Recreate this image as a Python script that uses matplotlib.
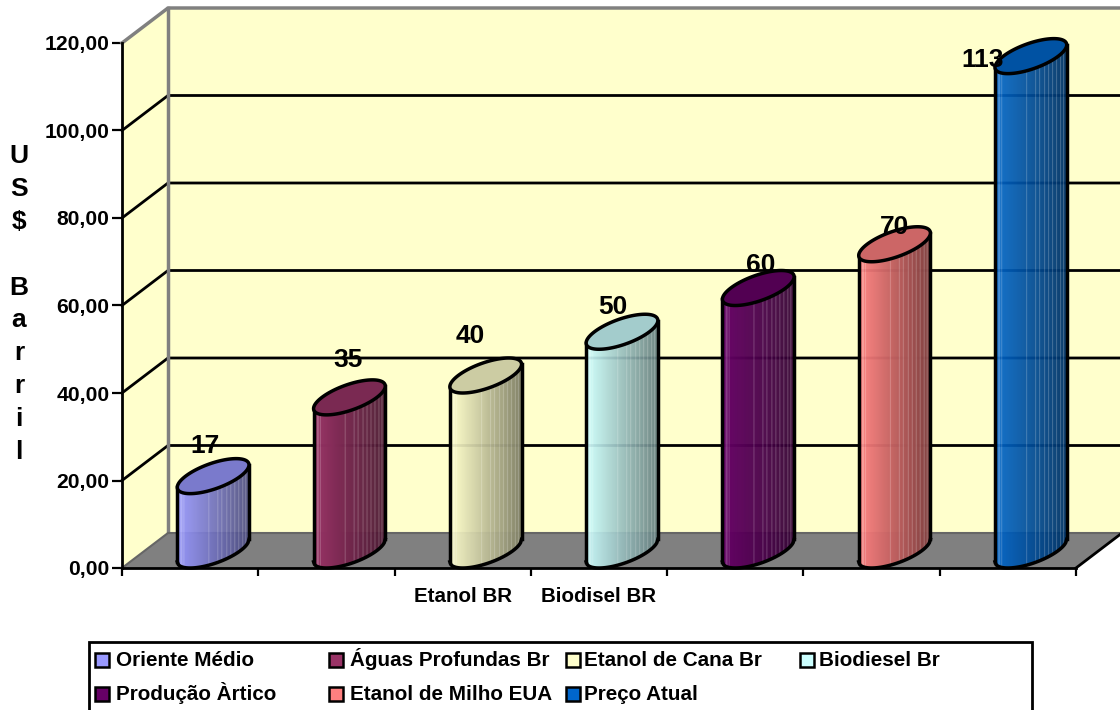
import numpy as np
import matplotlib
matplotlib.use('Agg')
import matplotlib.pyplot as plt
from matplotlib.patches import Polygon, Rectangle
from matplotlib.colors import to_rgb

plt.rcParams['font.family'] = ['Liberation Sans', 'DejaVu Sans']
plt.rcParams['font.weight'] = 'bold'

# dados
categories = ['Oriente Médio', 'Águas Profundas Br', 'Etanol de Cana Br', 'Biodiesel Br',
              'Produção Àrtico', 'Etanol de Milho EUA', 'Preço Atual']
values = [17, 35, 40, 50, 60, 70, 113]
colors = ['#9999ff', '#993366', '#ffffcc', '#ccffff', '#660066', '#ff8080', '#0066cc']
xtick_labels = ['', '', 'Etanol BR', 'Biodisel BR', '', '', '']
yticks = [0, 20, 40, 60, 80, 100, 120]
ylabel = 'U\nS\n$\n\nB\na\nr\nr\ni\nl'

# deslocamento manual dos rotulos (px) em relacao ao topo frontal da barra
label_dx = [15, 22, 8, 14, 25, 23, -25]
label_dy = [48, 55, 57, 42, 40, 35, 14]

# profundidade 3D em unidades de dados
DX = 46 / 136.3
DY = 8.0
WIDTH = 55 / 136.3
light_lines = [0.05, 0.09, 0.44, 0.56, 0.62, 0.69, 0.75, 0.8, 0.86, 0.91, 0.96]

fig = plt.figure(figsize=(11.2, 7.1), dpi=100)
ax = fig.add_axes([122 / 1120, (710 - 568) / 710, 954 / 1120, 525 / 710])
ax.set_xlim(0, 7)
ax.set_ylim(0, 120)
ax.patch.set_visible(False)
for s in ['top', 'right']:
    ax.spines[s].set_visible(False)
for s in ['left', 'bottom']:
    ax.spines[s].set_linewidth(2)
    ax.spines[s].set_zorder(6)

# paredes e piso
ax.add_patch(Polygon([(DX, DY), (7 + DX, DY), (7 + DX, 120 + DY), (DX, 120 + DY)],
                     fc='#ffffcc', ec='none', clip_on=False, zorder=1))
ax.add_patch(Polygon([(0, 0), (DX, DY), (DX, 120 + DY), (0, 120)],
                     fc='#ffffcc', ec='none', clip_on=False, zorder=1))
ax.add_patch(Polygon([(0, 0), (DX, DY), (7 + DX, DY), (7, 0)],
                     fc='#808080', ec='none', clip_on=False, zorder=1))
for v in yticks[1:-1]:
    ax.plot([0, DX, 7 + DX], [v, v + DY, v + DY], color='black', lw=2, clip_on=False, zorder=2)
ax.plot([0, DX, 7 + DX], [120, 120 + DY, 120 + DY], color='#808080', lw=2.5, clip_on=False, zorder=2)
ax.plot([DX, DX], [DY, 120 + DY], color='#808080', lw=2.5, clip_on=False, zorder=2)
ax.plot([0, DX, 7 + DX], [0, DY, DY], color='#666666', lw=1.5, clip_on=False, zorder=2)
ax.plot([7, 7 + DX], [0, DY], color='black', lw=2, clip_on=False, zorder=6)

# cilindros
A = WIDTH / 2
B = DX / 2
C = DY / 2
R = np.hypot(A, B)
phi = np.arctan2(B, A)
t = np.linspace(0, 2 * np.pi, 200)
xs = np.linspace(-R, R, 73)


def lower_edge(x):
    return C * np.sin(phi - np.arccos(np.clip(x / R, -1, 1)))


for i, (v, col) in enumerate(zip(values, colors)):
    cx = i + 0.5 + DX / 2
    base = np.array(to_rgb(col))
    low = lower_edge(xs)
    for j in range(len(xs) - 1):
        f = j / (len(xs) - 2)
        shade = 1.0 - 0.5 * f
        c = base * shade
        if any(abs(f - p) < 0.008 for p in light_lines):
            c = c + (1 - c) * 0.22
        xx = cx + xs[j:j + 2]
        ax.fill_between(xx, DY / 2 + low[j:j + 2], v + DY / 2 + low[j:j + 2], color=c,
                        lw=0.3, clip_on=False, zorder=3)
    # contorno
    ax.plot(cx + xs, DY / 2 + low, color='black', lw=2.5, clip_on=False, zorder=4)
    ax.plot([cx - R, cx - R], [DY / 2 + low[0], v + DY / 2 + low[0]], color='black', lw=2.5, clip_on=False, zorder=4)
    ax.plot([cx + R, cx + R], [DY / 2 + low[-1], v + DY / 2 + low[-1]], color='black', lw=2.5, clip_on=False, zorder=4)
    # tampa
    ex = cx + A * np.cos(t) + B * np.sin(t)
    ey = v + DY / 2 + C * np.sin(t)
    ax.fill(ex, ey, fc=base * 0.8, ec='black', lw=2.5, clip_on=False, zorder=5)
    ax.annotate(str(v), (i + 0.5, v), xytext=(label_dx[i] * 0.72, label_dy[i] * 0.72), textcoords='offset points',
                ha='center', va='center', fontsize=19, fontweight='bold', zorder=7, annotation_clip=False)

# eixos
ax.set_yticks(yticks)
ax.set_yticklabels(['%d,00' % v for v in yticks])
ax.set_xticks(range(8))
ax.set_xticklabels([])
ax.set_xticks(np.arange(7) + 0.5, minor=True)
ax.set_xticklabels(xtick_labels, minor=True)
ax.tick_params(axis='both', which='major', length=6, width=1.6, labelsize=15.2)
ax.tick_params(axis='y', length=7, pad=2)
ax.tick_params(axis='x', which='minor', length=0, labelsize=14.8, pad=14)
fig.text(19 / 1120, 1 - 304 / 710, ylabel, ha='center', va='center', fontsize=19,
         fontweight='bold', linespacing=1.47)

# legenda
leg = fig.add_axes([0, 0, 1, 1])
leg.set_xlim(0, 1120)
leg.set_ylim(710, 0)
leg.axis('off')
leg.patch.set_visible(False)
leg.add_patch(Rectangle((89, 642), 943, 70, fc='white', ec='black', lw=2))
leg_x = [95, 329, 566, 800, 95, 329, 566]
leg_y = [660, 660, 660, 660, 694, 694, 694]
leg_gap = [21, 21, 18, 19, 21, 21, 18]
for name, col, lx, ly, gap in zip(categories, colors, leg_x, leg_y, leg_gap):
    leg.add_patch(Rectangle((lx, ly - 7), 14, 14, fc=col, ec='black', lw=1.8))
    leg.text(lx + gap, ly + 6.5, name, ha='left', va='baseline', fontsize=14.9, fontweight='bold')

fig.savefig('out.png', dpi=100)
